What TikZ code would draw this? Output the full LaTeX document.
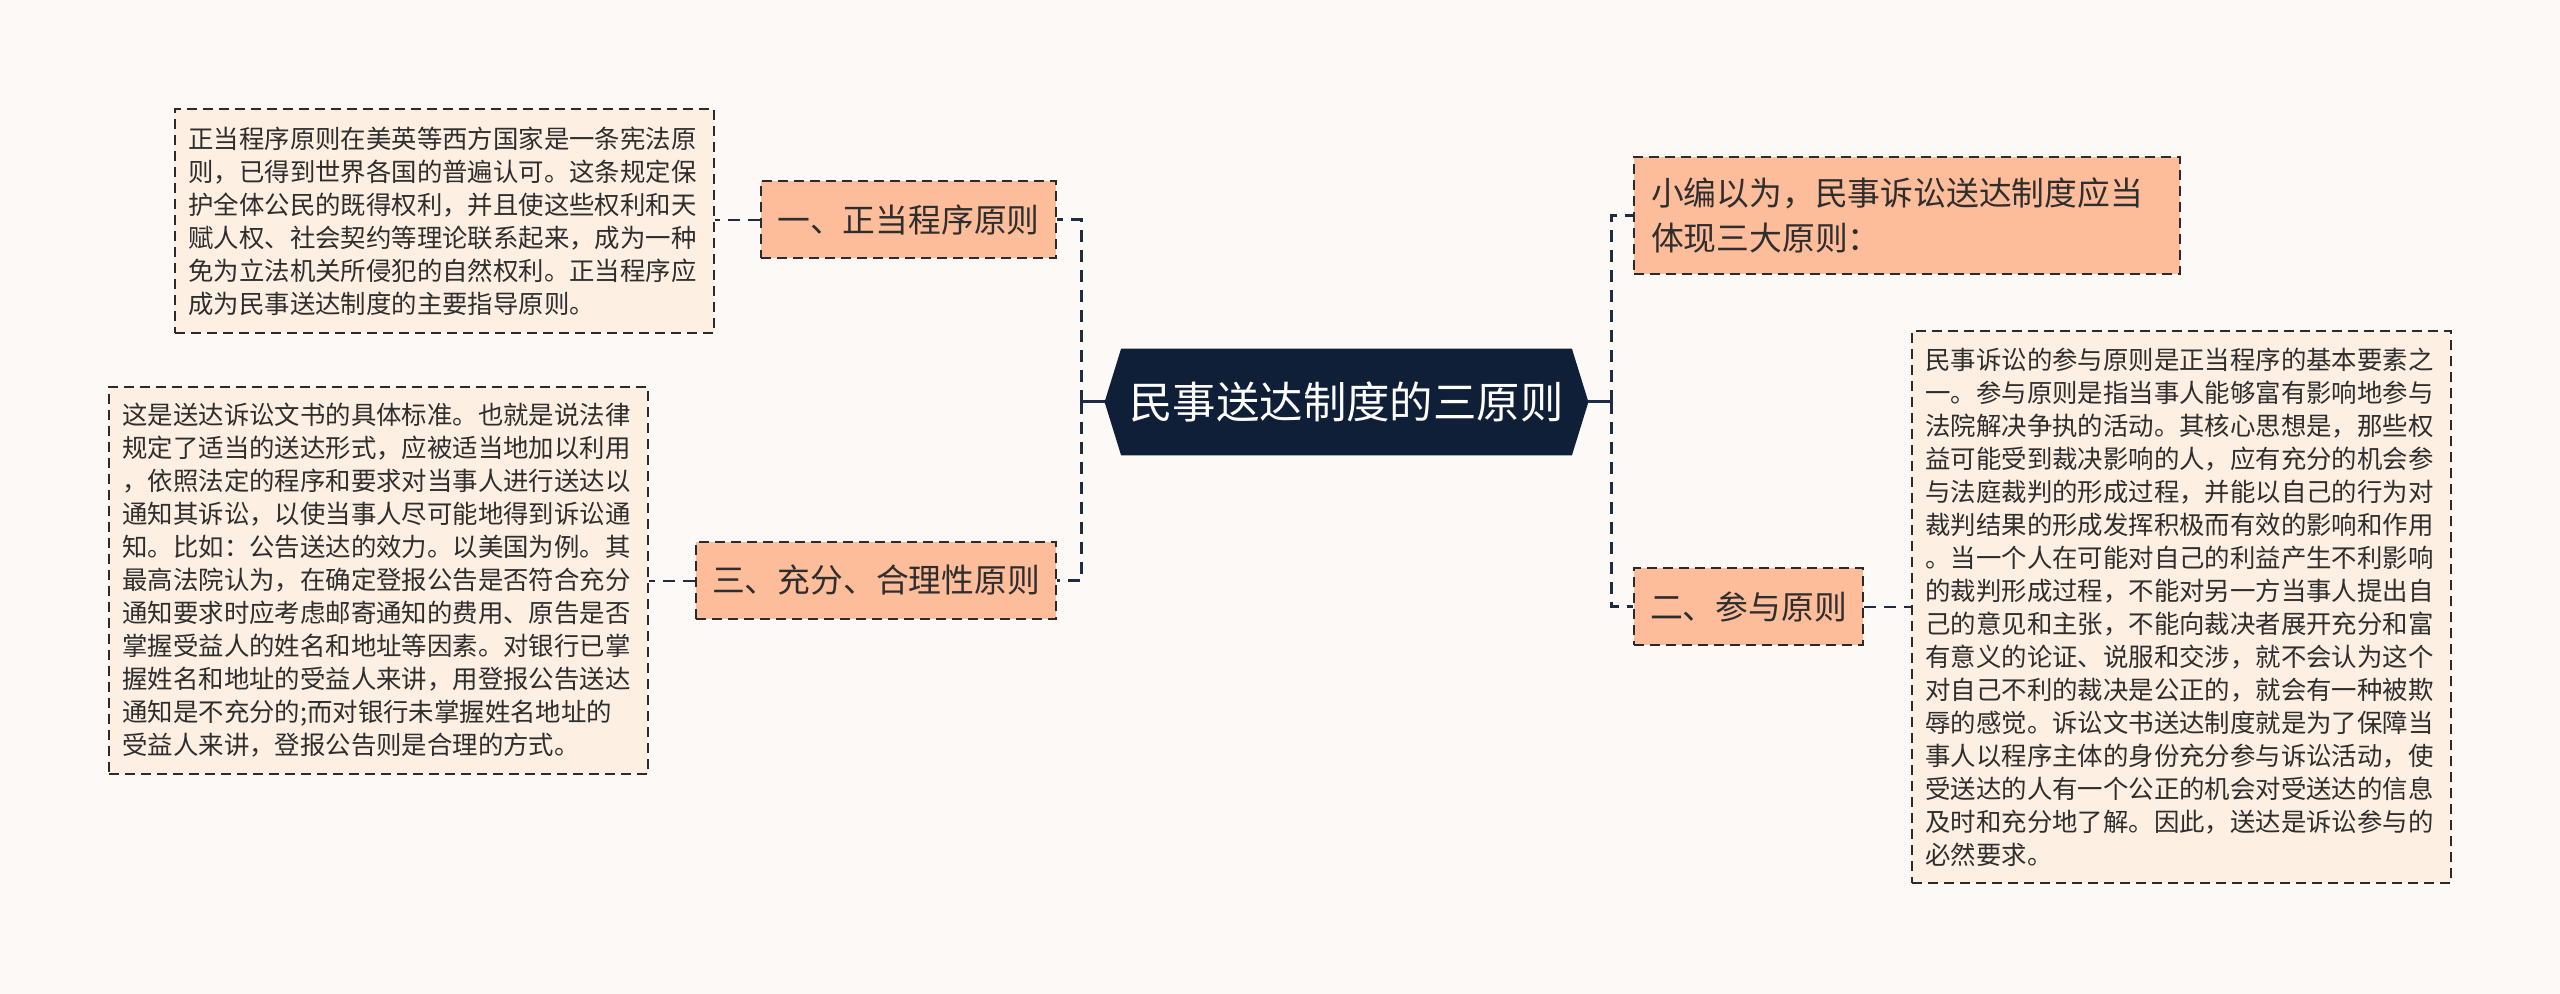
\documentclass[tikz,border=0pt]{standalone}
\usepackage{fontspec}
\setmainfont{Noto Sans CJK SC}
\usetikzlibrary{calc}
\definecolor{bgc}{HTML}{FCF9F7}
\definecolor{navy}{HTML}{0F1F38}
\definecolor{salmon}{HTML}{FDBD9B}
\definecolor{cream}{HTML}{FDEFE2}
\definecolor{edge}{HTML}{2B2B2B}
\definecolor{conn}{HTML}{1E2B40}
\definecolor{txt}{HTML}{2E2E2E}
\pgfdeclarelayer{bg}
\pgfsetlayers{bg,main}
\tikzset{
 topic/.style={draw=edge, line width=1pt, dash pattern=on 5pt off 3pt, fill=salmon, font=\fontsize{16.4}{22.9}\selectfont, text=txt, inner sep=0pt},
 leaf/.style={draw=edge, line width=1pt, dash pattern=on 5pt off 3pt, fill=cream, font=\fontsize{12.7}{16.5}\selectfont, text=txt, align=left, text width=256pt, inner xsep=6.75pt, inner ysep=0pt},
 link/.style={draw=conn, line width=1.5pt, dash pattern=on 6pt off 4pt},
 leaflink/.style={draw=conn, line width=1pt, dash pattern=on 6pt off 4pt},
 solidlink/.style={draw=conn, line width=1.5pt},
}
\begin{document}
\begin{tikzpicture}[x=0.5pt,y=-0.5pt]
\useasboundingbox (0,0) rectangle (2560,994);

% central
\node[font=\fontsize{21.7}{26}\selectfont, text=white, minimum width=225pt, minimum height=53pt, inner sep=0pt] (c) at (1346.5,402) {民事送达制度的三原则};
\coordinate (cl) at ($(c.west)+(-16.5,0)$);
\coordinate (cr) at ($(c.east)+(16.5,0)$);
\begin{pgfonlayer}{bg}
\fill[bgc] (0,0) rectangle (2560,994);
\fill[navy] (cl) -- (c.north west) -- (c.north east) -- (cr) -- (c.south east) -- (c.south west) -- cycle;
\end{pgfonlayer}

% topics
\node[topic, minimum width=147.5pt, minimum height=38.5pt] (p1) at (908.5,220) {一、正当程序原则};
\node[topic, minimum width=180pt, minimum height=38.5pt] (p3) at (876,580.5) {三、充分、合理性原则};
\node[topic, minimum width=114.5pt, minimum height=38.5pt] (p2) at (1748.5,606.5) {二、参与原则};
\node[topic, align=left, text width=256pt, inner xsep=8.5pt, minimum height=58.5pt] (p0) at (1907,215.5) {小编以为，民事诉讼送达制度应当\\体现三大原则：};

% leaves
\node[leaf, minimum height=112pt] (a) at (444.5,221) {正当程序原则在美英等西方国家是一条宪法原\\则，已得到世界各国的普遍认可。这条规定保\\护全体公民的既得权利，并且使这些权利和天\\赋人权、社会契约等理论联系起来，成为一种\\免为立法机关所侵犯的自然权利。正当程序应\\成为民事送达制度的主要指导原则。};
\node[leaf, minimum height=193.5pt] (b) at (378.5,580.5) {这是送达诉讼文书的具体标准。也就是说法律\\规定了适当的送达形式，应被适当地加以利用\\，依照法定的程序和要求对当事人进行送达以\\通知其诉讼，以使当事人尽可能地得到诉讼通\\知。比如：公告送达的效力。以美国为例。其\\最高法院认为，在确定登报公告是否符合充分\\通知要求时应考虑邮寄通知的费用、原告是否\\掌握受益人的姓名和地址等因素。对银行已掌\\握姓名和地址的受益人来讲，用登报公告送达\\通知是不充分的;而对银行未掌握姓名地址的\\受益人来讲，登报公告则是合理的方式。};
\node[leaf, minimum height=276pt] (cc) at (2181.5,607) {民事诉讼的参与原则是正当程序的基本要素之\\一。参与原则是指当事人能够富有影响地参与\\法院解决争执的活动。其核心思想是，那些权\\益可能受到裁决影响的人，应有充分的机会参\\与法庭裁判的形成过程，并能以自己的行为对\\裁判结果的形成发挥积极而有效的影响和作用\\。当一个人在可能对自己的利益产生不利影响\\的裁判形成过程，不能对另一方当事人提出自\\己的意见和主张，不能向裁决者展开充分和富\\有意义的论证、说服和交涉，就不会认为这个\\对自己不利的裁决是公正的，就会有一种被欺\\辱的感觉。诉讼文书送达制度就是为了保障当\\事人以程序主体的身份充分参与诉讼活动，使\\受送达的人有一个公正的机会对受送达的信息\\及时和充分地了解。因此，送达是诉讼参与的\\必然要求。};

% connectors
\coordinate (lt) at (1081,402);
\coordinate (rt) at (1611,402);
\draw[solidlink] (cl) -- (lt);
\draw[solidlink] (cr) -- (rt);
\draw[link] (lt) |- (p1.east);
\draw[link] (lt) |- (p3.east);
\draw[link] (rt) |- (p0.west);
\draw[link] (rt) |- (p2.west);
\draw[leaflink] (p1.west) -- (p1.west -| a.east);
\draw[leaflink] (p3.west) -- (p3.west -| b.east);
\draw[leaflink] (p2.east) -- (p2.east -| cc.west);
\end{tikzpicture}
\end{document}
